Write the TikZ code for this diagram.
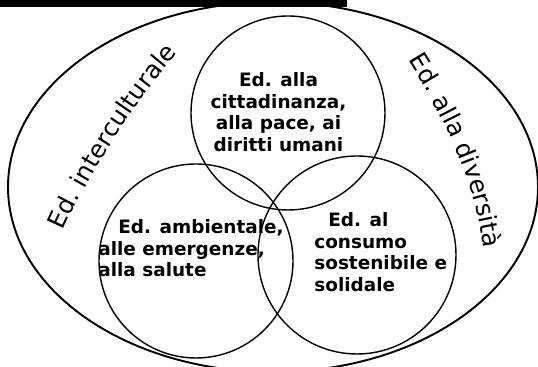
\documentclass[tikz,border=0pt]{standalone}
\usepackage{fontspec}
\setmainfont{DejaVu Sans}
\usetikzlibrary{decorations.text}
\begin{document}
\begin{tikzpicture}[x=0.02cm,y=0.02cm,
  ring/.style={draw=black, line width=0.8pt},
  outerring/.style={draw=black, line width=1.1pt},
  blocktext/.style={font=\fontsize{10.5}{12.4}\selectfont\bfseries, inner sep=0pt},
  curvetext/.style={decorate, decoration={text along path, text format delimiters={|}{|}, text={#1}}},
]
\useasboundingbox (0,0) rectangle (538,367);
\begin{scope}
  \clip (0,0) rectangle (538,367);
  \fill[black] (0,360) rectangle (347,367);
  \draw[outerring] (273,180) ellipse [x radius=265, y radius=185];
\end{scope}
\draw[ring] (288,254) circle [radius=97];
\draw[ring] (196,106) circle [radius=97];
\draw[ring] (357,112) circle [radius=99];

% base anchor = baseline of the last line
\node[blocktext, align=center, anchor=base] (ttop) at (278.5,215.3)
  {Ed. alla\\cittadinanza,\\alla pace, ai\\diritti umani};
\node[blocktext, align=left, anchor=base west] (tleft) at (98,90)
  {\hspace*{0.4cm}Ed. ambientale,\\alle emergenze,\\alla salute};
\node[blocktext, align=left, anchor=base west] (tright) at (314,75.3)
  {\hspace*{0.28cm}Ed. al\\consumo\\sostenibile e\\solidale};

\path[curvetext={|\fontsize{14}{16}\selectfont|Ed. interculturale}]
  (63,136) .. controls (81,177) and (131,262) .. (177,313) -- (197,335);
\path[curvetext={|\fontsize{14}{16}\selectfont|Ed. alla diversità}]
  (408,307) .. controls (440,255) and (474,195) .. (484,115) -- (487,90);
\end{tikzpicture}
\end{document}
